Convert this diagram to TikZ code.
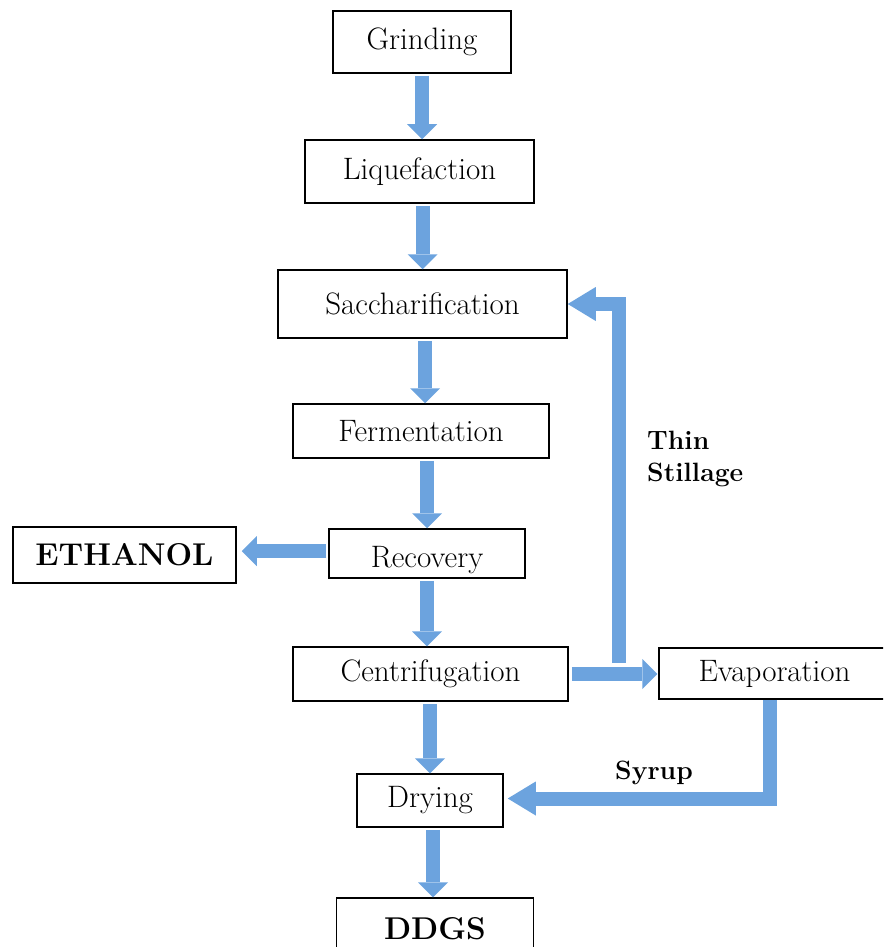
\documentclass[tikz,border=0pt]{standalone}
\usetikzlibrary{arrows.meta}
\definecolor{arrowblue}{RGB}{108,163,222}
\begin{document}
\begin{tikzpicture}[x=1pt,y=-1pt,
  box/.style={draw=black, line width=1.5pt, fill=white, inner sep=0pt,
    font=\fontsize{31}{34}\selectfont},
  bbox/.style={box, font=\fontsize{31.5}{34}\selectfont\bfseries},
  flow/.style={draw=arrowblue, line width=14pt, shorten <=2pt,
    -{Triangle[width=30pt,length=15pt,line width=0pt]}},
  bent/.style={draw=arrowblue, line width=14pt, line join=miter,
    -{Triangle[width=34pt,length=28pt,line width=0pt]}},
  lab/.style={font=\fontsize{26.5}{32}\selectfont\bfseries, inner sep=0pt, align=left}]
\useasboundingbox (0,0) rectangle (883,947);
\clip (0,0) rectangle (883,947);

% boxes
\node[box, minimum width=178pt, minimum height=62pt] (grind) at (422,42) {Grinding};
\node[box, minimum width=229pt, minimum height=63pt] (liq) at (419.5,171.5) {Liquefaction};
\node[box, minimum width=289pt, minimum height=68pt] (sacch) at (422.5,304) {Saccharification};
\node[box, minimum width=196pt, minimum height=49pt, text height=27pt, text depth=0pt] (reco) at (427,553.5) {Recovery};
\node[box, minimum width=256pt, minimum height=54pt] (ferm) at (421,431) {Fermentation};
\node[bbox, minimum width=223pt, minimum height=56pt] (eth) at (124.5,555) {ETHANOL};
\node[box, minimum width=275pt, minimum height=54pt] (centr) at (430.5,674) {Centrifugation};
\node[box, minimum width=231pt, minimum height=51pt] (evap) at (774.5,673.5) {Evaporation};
\node[box, minimum width=146pt, minimum height=53pt] (dry) at (430,800.5) {Drying};
\node[bbox, minimum width=197pt, minimum height=62pt] (ddgs) at (435,929) {DDGS};

% main flow
\draw[flow] (grind.south) -- (grind.south |- liq.north);
\draw[flow] (liq.south -| sacch.north) -- (sacch.north);
\draw[flow] ([xshift=2.5pt]sacch.south) -- ([xshift=2.5pt]sacch.south |- ferm.north);
\draw[flow] (reco.north |- ferm.south) -- (reco.north);
\draw[flow] (reco.south) -- (reco.south |- centr.north);
\draw[flow] (centr.south -| dry.north) -- (dry.north);
\draw[flow] ([xshift=3pt]dry.south) -- ([xshift=3pt]dry.south |- ddgs.north);

% side flows
\draw[flow, shorten >=5pt] ([yshift=2.5pt]reco.west) -- ([yshift=2.5pt]reco.west -| eth.east);
\draw[flow, shorten <=3pt, shorten >=1pt] (centr.east) -- (centr.east -| evap.west);

% thin stillage recycle
\coordinate (ts) at (619,663);
\draw[bent] (ts) |- (sacch.east);
\node[lab, anchor=north west] (thin) at (647,431) {Thin\\Stillage};

% syrup
\draw[bent, shorten >=4pt] ([xshift=-5pt]evap.south) |- ([yshift=2pt]dry.east);
\node[lab, anchor=base] (syrup) at (654,779) {Syrup};
\end{tikzpicture}
\end{document}
